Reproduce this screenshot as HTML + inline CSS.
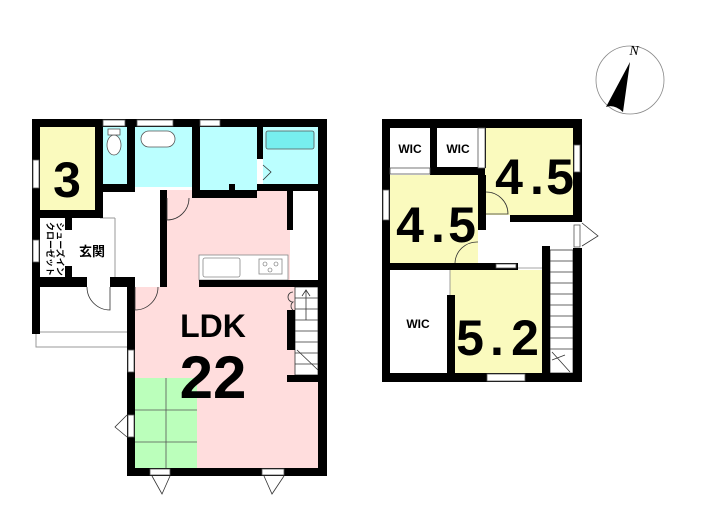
<!DOCTYPE html>
<html><head><meta charset="utf-8"><style>body{margin:0;background:#fff}svg{display:block}</style></head>
<body>
<svg width="705" height="525" viewBox="0 0 705 525" xmlns="http://www.w3.org/2000/svg" font-family="'Liberation Sans','Noto Sans CJK JP',sans-serif">
<rect width="705" height="525" fill="#fff"/>
<rect x="40" y="127" width="57" height="88" fill="#fafabe"/>
<rect x="103" y="127" width="32" height="57" fill="#bff"/>
<rect x="135" y="127" width="58" height="60" fill="#bff"/>
<rect x="200" y="127" width="57" height="64" fill="#bff"/>
<rect x="263" y="127" width="56" height="57" fill="#bff"/>
<rect x="167" y="190" width="123" height="97" fill="#fdd"/>
<rect x="135" y="287" width="185" height="183" fill="#fdd"/>
<rect x="135" y="378" width="62" height="90" fill="#bfb"/>
<g stroke="#555" stroke-width="0.8" fill="none">
<line x1="166" y1="378" x2="166" y2="468"/><line x1="135" y1="410" x2="197" y2="410"/><line x1="135" y1="442" x2="197" y2="442"/>
</g>
<rect x="199" y="255" width="89" height="25" fill="#fff" stroke="#888" stroke-width="0.8"/>
<rect x="203" y="258" width="37" height="19" rx="2" fill="#fff" stroke="#888" stroke-width="0.8"/>
<rect x="259" y="259" width="23" height="15" fill="#fff" stroke="#888" stroke-width="0.8"/>
<circle cx="265" cy="264" r="2" fill="none" stroke="#666" stroke-width="0.6"/><circle cx="276" cy="264" r="2" fill="none" stroke="#666" stroke-width="0.6"/><circle cx="270" cy="270" r="2" fill="none" stroke="#666" stroke-width="0.6"/>
<rect x="266" y="131" width="48" height="18" rx="2" fill="#7ee" stroke="#555" stroke-width="0.8"/>
<rect x="141" y="131" width="34" height="16" rx="8" fill="#fff" stroke="#555" stroke-width="0.8"/>
<ellipse cx="114" cy="145" rx="7" ry="10" fill="#fff" stroke="#555" stroke-width="0.8"/>
<rect x="108" y="129" width="12" height="6" fill="#fff" stroke="#555" stroke-width="0.8"/>
<g stroke="#333" stroke-width="0.8">
<rect x="295" y="287" width="23" height="88" fill="#fff"/>
<line x1="295" y1="298" x2="318" y2="298"/><line x1="295" y1="309" x2="318" y2="309"/><line x1="295" y1="320" x2="318" y2="320"/><line x1="295" y1="331" x2="318" y2="331"/><line x1="295" y1="342" x2="318" y2="342"/><line x1="295" y1="353" x2="318" y2="353"/><line x1="295" y1="364" x2="318" y2="364"/>
<line x1="306" y1="290" x2="306" y2="320"/><polyline points="302,296 306,290 310,296" fill="none"/>
<line x1="297" y1="350" x2="318" y2="370"/>
</g>
<g stroke="#999" stroke-width="1" fill="none">
<line x1="40" y1="332" x2="127" y2="332"/><polyline points="36,334 36,347 127,347"/>
<line x1="100" y1="218" x2="115" y2="218"/><line x1="115" y1="218" x2="115" y2="277"/>
</g>
<g fill="#000">
<rect x="32" y="119" width="295" height="8"/>
<rect x="32" y="119" width="8" height="215"/>
<rect x="95" y="119" width="8" height="99"/>
<rect x="127" y="119" width="8" height="73"/>
<rect x="192" y="119" width="8" height="79"/>
<rect x="257" y="119" width="6" height="40"/>
<rect x="318" y="119" width="9" height="357"/>
<rect x="32" y="210" width="71" height="8"/>
<rect x="103" y="184" width="32" height="8"/>
<rect x="200" y="190" width="57" height="8"/>
<rect x="229" y="184" width="6" height="10"/>
<rect x="257" y="184" width="70" height="7"/>
<rect x="160" y="190" width="7" height="97"/>
<rect x="65" y="218" width="7" height="12"/>
<rect x="65" y="266" width="7" height="14"/>
<rect x="32" y="277" width="55" height="10"/>
<rect x="110" y="277" width="25" height="10"/>
<rect x="127" y="277" width="8" height="199"/>
<rect x="127" y="468" width="200" height="8"/>
<rect x="287" y="190" width="6" height="40"/>
<rect x="199" y="280" width="126" height="7"/>
<rect x="287" y="310" width="8" height="40"/>
<rect x="287" y="375" width="40" height="7"/>
</g>
<g fill="#fff" stroke="#555" stroke-width="0.8">
<rect x="33" y="160" width="6" height="28"/>
<rect x="33" y="240" width="6" height="22"/>
<rect x="103" y="120" width="22" height="6"/>
<rect x="137" y="120" width="36" height="6"/>
<rect x="200" y="120" width="20" height="6"/>
<rect x="128" y="350" width="6" height="22"/>
<rect x="128" y="415" width="6" height="22"/>
<rect x="150" y="469" width="20" height="6"/>
<rect x="262" y="469" width="22" height="6"/>
</g>
<g fill="none" stroke="#333" stroke-width="0.8">
<path d="M110,287 L110,310 A23,23 0 0 1 87,287"/>
<path d="M135,287 L135,310 A23,23 0 0 0 158,287"/>
<path d="M167,198 L167,220 A22,22 0 0 0 189,198"/>
<path d="M127,415 L115,427 L127,437"/>
<path d="M152,476 L162,494 L170,476"/>
<path d="M264,476 L272,494 L284,476"/>
<path d="M263,165 L271,172 L263,180"/>
<path d="M293,292 a5,5 0 0 0 0,10 a5,5 0 0 0 0,8"/>
</g>
<text x="67" y="197" font-size="50" font-weight="bold" text-anchor="middle">3</text>
<text x="79" y="256" font-size="13" font-weight="bold">玄関</text>
<text x="57" y="249" font-size="9" font-weight="bold" transform="rotate(90 57 249)" text-anchor="middle">シューズイン</text>
<text x="47" y="249" font-size="9" font-weight="bold" transform="rotate(90 47 249)" text-anchor="middle">クローゼット</text>
<text x="213" y="337" font-size="32" font-weight="bold" text-anchor="middle">LDK</text>
<text x="213" y="398" font-size="60" font-weight="bold" text-anchor="middle">22</text>

<rect x="390" y="175" width="88" height="88" fill="#fafabe"/>
<rect x="485" y="128" width="88" height="87" fill="#fafabe"/>
<rect x="450" y="270" width="92" height="103" fill="#fafabe"/>
<rect x="550" y="250" width="23" height="123" stroke="#333" stroke-width="0.8" fill="#fff"/>
<g stroke="#333" stroke-width="0.8">
<line x1="550" y1="261" x2="573" y2="261"/><line x1="550" y1="272" x2="573" y2="272"/><line x1="550" y1="283" x2="573" y2="283"/><line x1="550" y1="294" x2="573" y2="294"/><line x1="550" y1="305" x2="573" y2="305"/><line x1="550" y1="316" x2="573" y2="316"/><line x1="550" y1="327" x2="573" y2="327"/><line x1="550" y1="338" x2="573" y2="338"/><line x1="550" y1="349" x2="573" y2="349"/>
<line x1="552" y1="352" x2="570" y2="372"/><line x1="552" y1="360" x2="565" y2="355"/>
<line x1="450" y1="270" x2="450" y2="295" stroke="#888"/>
<line x1="495" y1="268" x2="542" y2="268" stroke="#888"/>
</g>
<g fill="#000">
<rect x="382" y="119" width="200" height="9"/>
<rect x="382" y="119" width="8" height="263"/>
<rect x="573" y="119" width="9" height="100"/>
<rect x="573" y="248" width="9" height="134"/>
<rect x="382" y="373" width="200" height="9"/>
<rect x="430" y="128" width="7" height="40"/>
<rect x="430" y="167" width="55" height="8"/>
<rect x="478" y="128" width="8" height="40"/>
<rect x="478" y="175" width="8" height="55"/>
<rect x="510" y="215" width="72" height="7"/>
<rect x="382" y="263" width="136" height="7"/>
<rect x="447" y="295" width="8" height="80"/>
<rect x="542" y="246" width="8" height="130"/>
</g>
<g fill="#fff" stroke="#555" stroke-width="0.8">
<rect x="390" y="168" width="40" height="6"/>
<rect x="478" y="128" width="7" height="40"/>
<rect x="383" y="190" width="6" height="30"/>
<rect x="574" y="145" width="6" height="27"/>
<rect x="574" y="225" width="6" height="22"/>
<rect x="487" y="374" width="38" height="7"/>
<rect x="496" y="264" width="20" height="4"/>
</g>
<g fill="none" stroke="#333" stroke-width="0.8">
<path d="M486,192 A22,22 0 0 1 508,214 L486,214"/>
<path d="M478,242 A22,22 0 0 0 455,263"/>
<path d="M582,223 L598,236 L582,246"/>
</g>
<g font-weight="bold" text-anchor="middle">
<text x="410" y="153" font-size="12">WIC</text>
<text x="458" y="153" font-size="12">WIC</text>
<text x="418" y="328" font-size="12">WIC</text>
<text x="410" y="242" font-size="50">4</text><text x="438" y="242" font-size="50">.</text><text x="462" y="242" font-size="50">5</text>
<text x="509" y="194" font-size="50">4</text><text x="537" y="194" font-size="50">.</text><text x="560" y="194" font-size="50">5</text>
<text x="470" y="355" font-size="50">5</text><text x="497" y="355" font-size="50">.</text><text x="525" y="355" font-size="50">2</text>
</g>
<circle cx="630" cy="80" r="34" fill="none" stroke="#888" stroke-width="0.8"/>
<path d="M630,62 L606,107 Q614,104 623,112 Z" fill="#000"/>
<text x="634" y="55" font-size="14" font-style="italic" font-family="'Liberation Serif',serif" text-anchor="middle">N</text>
</svg>
</body></html>
